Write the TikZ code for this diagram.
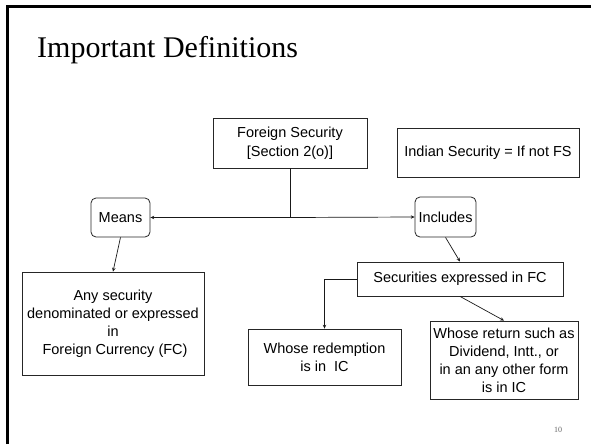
\documentclass[tikz,border=0pt]{standalone}
\usepackage{fontspec}
\setmainfont{Liberation Sans}
\newfontfamily\titlefont{Liberation Serif}
\usetikzlibrary{arrows.meta}
\begin{document}
\begin{tikzpicture}[x=1pt,y=-1pt,
  box/.style={draw=black!85, line width=0.8pt, inner sep=0pt, align=center,
    font=\fontsize{14.5}{18}\selectfont},
  roundbox/.style={box, rounded corners=5pt},
  link/.style={draw=black!90, line width=0.7pt},
  arrow/.style={link, -{Stealth[length=3.8pt,width=3.4pt]}}]
\useasboundingbox (0,0) rectangle (591,444);
\fill[white] (0,0) rectangle (591,444);
% slide frame
\draw[line width=3pt] (7.5,444) -- (7.5,6.2) -- (591,6.2);

% title
\node[anchor=base west, inner sep=0pt, font=\titlefont\fontsize{30}{36}\selectfont] (title) at (37,58) {Important Definitions};

% boxes
\node[box, minimum width=154pt, minimum height=50pt, font=\fontsize{14.5}{19}\selectfont] (fs) at (290,143) {Foreign Security\\{[}Section 2(o)]};
\node[box, minimum width=182pt, minimum height=49pt] (indian) at (488,152.5) {Indian Security = If not FS};
\node[roundbox, minimum width=59pt, minimum height=39pt] (means) at (120.5,217.5) {Means};
\node[roundbox, minimum width=61pt, minimum height=40pt] (includes) at (445.5,217) {Includes};
\node[box, minimum width=182pt, minimum height=103pt] (any) at (113,323.5) {Any security\\denominated or expressed\\in\\\ Foreign Currency (FC)};
\node[box, minimum width=206pt, minimum height=34pt] (sec) at (460,279) {Securities expressed in FC};
\node[box, minimum width=153pt, minimum height=56pt] (redemption) at (324.5,357) {Whose redemption\\is in~~IC};
\node[box, minimum width=148pt, minimum height=78pt] (return) at (504,360) {Whose return such as\\Dividend, Intt., or\\in an any other form\\is in IC};

% connectors
\coordinate (j) at (fs.south |- means.east);
\draw[link] (fs.south) -- (j);
\draw[arrow] (j) -- (means.east);
\draw[arrow] (j) -- (includes.west);
\draw[arrow] (means.south) -- (any.north);
\draw[arrow] (includes.south) -- (sec.north);
\draw[arrow] (sec.west) -| (redemption.north);
\draw[arrow] (sec.south) -- (return.north);

% page number
\node[font=\titlefont\fontsize{8}{9}\selectfont, text=black!60] (pg) at (558,430) {10};
\end{tikzpicture}
\end{document}
